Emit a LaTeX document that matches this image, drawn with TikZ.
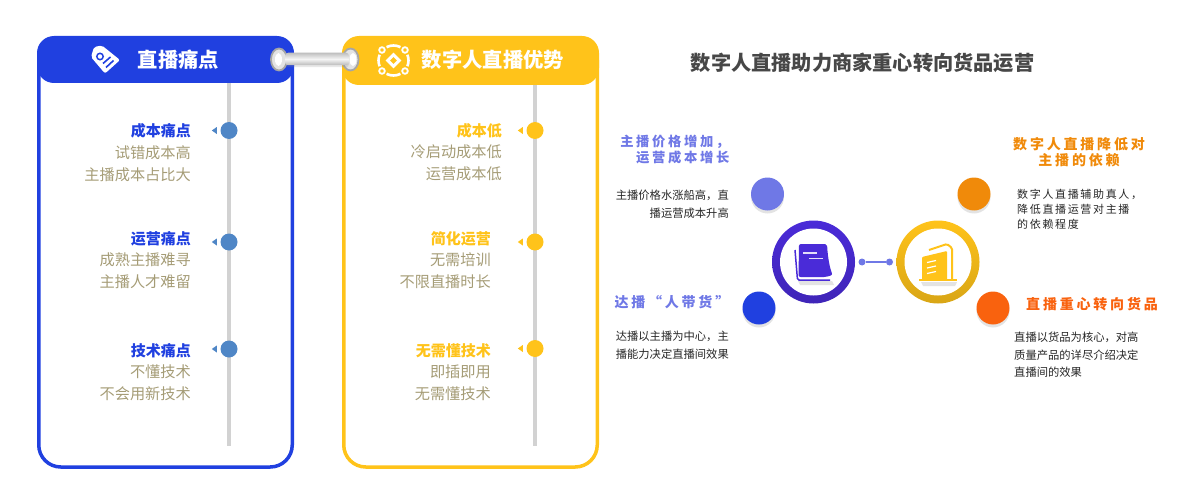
\documentclass[tikz,border=0pt]{standalone}
\usepackage{fontspec}
\setmainfont{Noto Sans CJK SC}
\newfontfamily\cjkwide[LetterSpace=20]{Noto Sans CJK SC}
\newfontfamily\cjkthin[LetterSpace=15]{Noto Sans CJK SC}
\usepackage{tikz}
\usetikzlibrary{positioning,shapes.geometric,shadows}
\definecolor{painblue}{HTML}{2040E0}
\definecolor{goodgold}{HTML}{FFC31A}
\definecolor{dotblue}{HTML}{4F86C6}
\definecolor{greytext}{HTML}{A59C76}
\definecolor{linegrey}{HTML}{D2D2D2}
\definecolor{lilac}{HTML}{6F78E6}
\definecolor{amber}{HTML}{F08A0A}
\definecolor{flame}{HTML}{F9620E}
\definecolor{violet}{HTML}{4A2BD8}

\begin{document}
\begin{tikzpicture}[x=1pt,y=-1pt,
  panel/.style={rectangle,draw,line width=3.5pt,rounded corners=22pt,minimum width=253.5pt,minimum height=429pt},
  header/.style={rectangle,rounded corners=17pt,minimum width=257pt,inner sep=0pt},
  paneltitle/.style={text=white,inner sep=0pt,font=\fontsize{20.3}{24}\selectfont\bfseries},
  rowhead/.style={inner sep=0pt,anchor=east,font=\fontsize{15}{18}\selectfont\bfseries},
  rowbody/.style={inner sep=0pt,align=right,text=greytext,font=\fontsize{15.2}{22}\selectfont},
  tick/.style={circle,inner sep=0pt,minimum size=17pt},
  pointer/.style={isosceles triangle,shape border rotate=180,isosceles triangle stretches,inner sep=0pt,minimum height=5pt,minimum width=7pt},
  ring/.style={circle,inner sep=0pt,minimum size=83pt},
  hole/.style={circle,fill=white,inner sep=0pt,minimum size=67pt},
  badge/.style={circle,inner sep=0pt,minimum size=33pt,drop shadow={shadow xshift=0pt,shadow yshift=-3pt,opacity=.22}},
  link/.style={circle,fill=lilac,inner sep=0pt,minimum size=7pt},
  eyelet/.style={ellipse,draw=gray!70,line width=1.8pt,fill=gray!22,inner sep=0pt,minimum width=16pt,minimum height=22pt},
  eyehole/.style={ellipse,fill=white,inner sep=0pt,minimum width=7pt,minimum height=13pt},
  bighead/.style={inner sep=0pt,font=\fontsize{14}{16}\selectfont\cjkwide\bfseries},
  leftnote/.style={inner sep=0pt,font=\fontsize{13.3}{16}\selectfont\cjkwide\bfseries},
  smalltext/.style={inner sep=0pt,text=black!85,font=\fontsize{11.3}{17.4}\selectfont}]
\useasboundingbox (0,0) rectangle (1182,500);

% panels
\node[panel,draw=painblue] (painpanel) at (165.5,252.5) {};
\node[panel,draw=goodgold] (goodpanel) at (470.5,252.5) {};
\node[header,fill=painblue,minimum height=47pt] (painhead) at (165.5,59.5) {};
\node[header,fill=goodgold,minimum height=49pt] (goodhead) at (470.5,60.5) {};
\node[paneltitle] (paintitle) at (178.5,60) {直播痛点};
\node[paneltitle] (goodtitle) at (493,60) {数字人直播优势};

% tube between the two headers
\node[eyelet] (eyeleft) at (279,59.5) {};
\node[eyehole] (holeleft) at (278.5,59.5) {};
\node[eyelet] (eyeright) at (350.5,59.5) {};
\node[eyehole] (holeright) at (353,59.5) {};
\node[rectangle,rounded corners=3pt,inner sep=0pt,minimum width=64pt,minimum height=12.5pt,top color=gray!50,bottom color=gray!55,middle color=gray!8,drop shadow={shadow xshift=0pt,shadow yshift=-2pt,opacity=.18}] (tube) at (317,59) {};

% tag icon
\fill[white,rounded corners=2pt] (94,47) -- (102,45.5) -- (120,60) -- (105,73.5) -- (91,57) -- cycle;
\draw[painblue,line width=1.5pt] (100,56.5) circle (3.2pt);
\draw[painblue,line width=1.6pt] (103,63.5) -- (110.5,57);
\draw[painblue,line width=1.6pt] (106,67.5) -- (113.5,60.5);

% coin icon
\draw[white,line width=2.6pt] (393.5,60.5) circle (15pt);
\foreach \cx/\cy in {382/50,405/50,382/71,405/71} {
  \fill[goodgold] (\cx,\cy) circle (5.6pt);
  \draw[white,fill=goodgold,line width=1.8pt] (\cx,\cy) circle (2.8pt);
}
\node[diamond,fill=white,inner sep=0pt,minimum size=16pt] (coinouter) at (393.5,60.5) {};
\node[diamond,fill=goodgold,inner sep=0pt,minimum size=7pt] (coininner) at (393.5,60.5) {};

% left time line
\coordinate (paintop) at (229,83);
\coordinate (painend) at (229,446);
\draw[linegrey,line width=3.6pt] (paintop) -- (painend);
\node[tick,fill=dotblue] (painA) at (229,130.5) {};
\node[tick,fill=dotblue] (painB) at (229,242) {};
\node[tick,fill=dotblue] (painC) at (229,349) {};
\node[pointer,fill=dotblue,left=12pt of painA.center] (arrowA) {};
\node[pointer,fill=dotblue,left=12pt of painB.center] (arrowB) {};
\node[pointer,fill=dotblue,left=12pt of painC.center] (arrowC) {};

\node[rowhead,text=painblue] (costhead) at (191,131) {成本痛点};
\node[rowbody,below=7pt of costhead.south east,anchor=north east] (costbody) {试错成本高\\主播成本占比大};
\node[rowhead,text=painblue] (runhead) at (191,239) {运营痛点};
\node[rowbody,below=6pt of runhead.south east,anchor=north east] (runbody) {成熟主播难寻\\主播人才难留};
\node[rowhead,text=painblue] (techhead) at (191,351) {技术痛点};
\node[rowbody,below=6pt of techhead.south east,anchor=north east] (techbody) {不懂技术\\不会用新技术};

% right time line
\coordinate (goodtop) at (535,85);
\coordinate (goodend) at (535,446);
\draw[linegrey,line width=3.6pt] (goodtop) -- (goodend);
\node[tick,fill=goodgold] (goodA) at (535,130.5) {};
\node[tick,fill=goodgold] (goodB) at (535,242) {};
\node[tick,fill=goodgold] (goodC) at (535,348.5) {};
\node[pointer,fill=goodgold,left=12pt of goodA.center] (markA) {};
\node[pointer,fill=goodgold,left=12pt of goodB.center] (markB) {};
\node[pointer,fill=goodgold,left=12pt of goodC.center] (markC) {};

\node[rowhead,text=goodgold] (lowhead) at (502,131) {成本低};
\node[rowbody,below=6pt of lowhead.south east,anchor=north east] (lowbody) {冷启动成本低\\运营成本低};
\node[rowhead,text=goodgold] (easyhead) at (491,239) {简化运营};
\node[rowbody,below=6pt of easyhead.south east,anchor=north east] (easybody) {无需培训\\不限直播时长};
\node[rowhead,text=goodgold] (plughead) at (491,351) {无需懂技术};
\node[rowbody,below=6pt of plughead.south east,anchor=north east] (plugbody) {即插即用\\无需懂技术};

% page title
\node[inner sep=0pt,text=black!72,font=\fontsize{20.2}{24}\selectfont\bfseries] (maintitle) at (862.5,63) {数字人直播助力商家重心转向货品运营};

% centre rings
\node[ring,top color=violet,bottom color=violet!85!black] (ringA) at (813.5,262) {};
\node[hole] (holeA) at (813.5,262) {};
\node[ring,top color=goodgold,bottom color=goodgold!85!black] (ringB) at (938,262) {};
\node[hole] (holeB) at (938,262) {};
\node[link] (linkA) at (862,262) {};
\node[link] (linkB) at (889.5,262) {};
\draw[lilac,line width=1.2pt] (linkA) -- (linkB);

% sheet icon
\fill[gray!22] (798,281) -- (832,281) -- (834,285) -- (800,285) -- cycle;
\draw[violet,line width=1.5pt,fill=white,rounded corners=1.5pt] (795,250) -- (797.5,280) -- (830,280);
\fill[violet,rounded corners=2pt] (799,244) -- (827,244) .. controls (828,260) and (830,268) .. (832.5,275) -- (826,277) -- (798.5,277) -- cycle;
\draw[white!85!violet,line width=1.4pt] (803,253) -- (817,253);
\draw[white!85!violet,line width=1.4pt] (809,258.5) -- (823,258.5);

% folder icon
\fill[gray!22] (921,282) -- (957,282) -- (955,286) -- (923,286) -- cycle;
\draw[goodgold,line width=2pt,rounded corners=1.5pt] (929,250) -- (947,244) -- (952,248) -- (952,280);
\fill[goodgold,rounded corners=1pt] (922,257) -- (947,251) -- (947,280) -- (922,280) -- cycle;
\draw[goodgold,line width=1.4pt] (919,280) -- (957,280);
\draw[white,line width=1.2pt] (927,262.5) -- (936,260.5);
\draw[white,line width=1.2pt] (927,268) -- (936,266);
\draw[white,line width=1.2pt] (927,273.5) -- (936,271.5);

% outer badges
\node[badge,fill=lilac] (badgeA) at (767.5,194) {};
\node[badge,fill=painblue] (badgeB) at (759,308) {};
\node[badge,fill=amber] (badgeC) at (974,194) {};
\node[badge,fill=flame] (badgeD) at (993,308) {};

% left notes
\node[leftnote,text=lilac,align=right,anchor=north east] (noteA) at (729.5,135) {主播价格增加，\\运营成本增长};
\node[smalltext,align=right,anchor=north east] (bodyA) at (729,190) {主播价格水涨船高，直\\播运营成本升高};
\node[bighead,text=lilac,anchor=east] (noteB) at (729.5,302) {达播“人带货”};
\node[smalltext,align=right,anchor=north east] (bodyB) at (729,331) {达播以主播为中心，主\\播能力决定直播间效果};

% right notes
\node[bighead,text=amber,align=center] (noteC) at (1079,152.5) {数字人直播降低对\\主播的依赖};
\node[smalltext,align=left,anchor=north west,font=\fontsize{11}{15.2}\selectfont\cjkthin] (bodyC) at (1017,188.5) {数字人直播辅助真人，\\降低直播运营对主播\\的依赖程度};
\node[bighead,text=flame,anchor=west] (noteD) at (1026,304) {直播重心转向货品};
\node[smalltext,align=left,anchor=north west] (bodyD) at (1014,332) {直播以货品为核心，对高\\质量产品的详尽介绍决定\\直播间的效果};
\end{tikzpicture}
\end{document}
